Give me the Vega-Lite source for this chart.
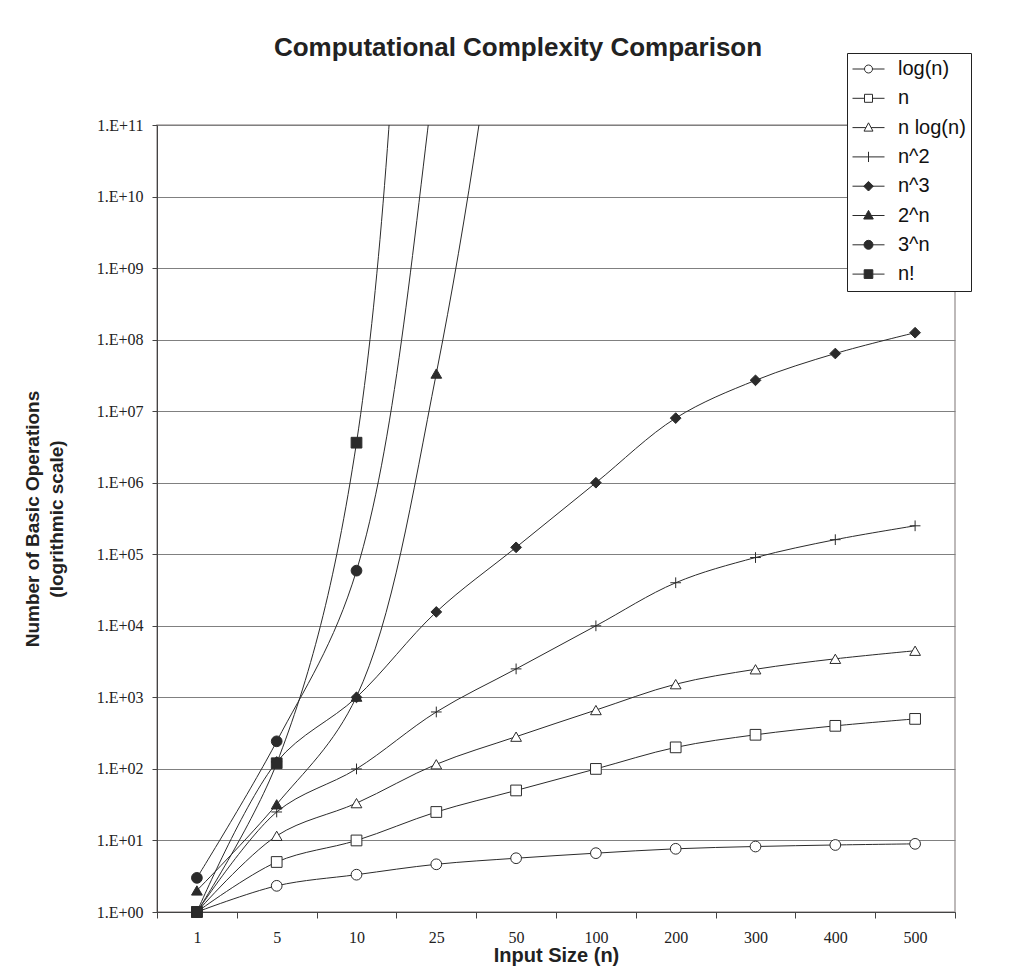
{
  "$schema": "https://vega.github.io/schema/vega-lite/v6.json",
  "autosize": {"type": "none"},
  "width": 798,
  "height": 787,
  "padding": {"left": 157, "top": 125, "right": 62, "bottom": 67},
  "background": "white",
  "config": {
    "view": {"stroke": "#a8a2a2", "strokeWidth": 1.5},
    "font": "Liberation Sans"
  },
  "title": {
    "text": "Computational Complexity Comparison",
    "font": "Liberation Sans",
    "fontSize": 26,
    "fontWeight": "bold",
    "color": "#222222",
    "anchor": "middle",
    "frame": "group",
    "dx": -38,
    "offset": -8
  },
  "data": {
    "values": [
      {"n": 1, "series": "log(n)", "v": 1},
      {"n": 5, "series": "log(n)", "v": 2.3219},
      {"n": 10, "series": "log(n)", "v": 3.3219},
      {"n": 25, "series": "log(n)", "v": 4.6439},
      {"n": 50, "series": "log(n)", "v": 5.6439},
      {"n": 100, "series": "log(n)", "v": 6.6439},
      {"n": 200, "series": "log(n)", "v": 7.6439},
      {"n": 300, "series": "log(n)", "v": 8.2288},
      {"n": 400, "series": "log(n)", "v": 8.6439},
      {"n": 500, "series": "log(n)", "v": 8.9658},
      {"n": 1, "series": "n", "v": 1},
      {"n": 5, "series": "n", "v": 5},
      {"n": 10, "series": "n", "v": 10},
      {"n": 25, "series": "n", "v": 25},
      {"n": 50, "series": "n", "v": 50},
      {"n": 100, "series": "n", "v": 100},
      {"n": 200, "series": "n", "v": 200},
      {"n": 300, "series": "n", "v": 300},
      {"n": 400, "series": "n", "v": 400},
      {"n": 500, "series": "n", "v": 500},
      {"n": 1, "series": "n log(n)", "v": 1},
      {"n": 5, "series": "n log(n)", "v": 11.61},
      {"n": 10, "series": "n log(n)", "v": 33.22},
      {"n": 25, "series": "n log(n)", "v": 116.1},
      {"n": 50, "series": "n log(n)", "v": 282.2},
      {"n": 100, "series": "n log(n)", "v": 664.4},
      {"n": 200, "series": "n log(n)", "v": 1528.8},
      {"n": 300, "series": "n log(n)", "v": 2468.6},
      {"n": 400, "series": "n log(n)", "v": 3457.5},
      {"n": 500, "series": "n log(n)", "v": 4482.9},
      {"n": 1, "series": "n^2", "v": 1},
      {"n": 5, "series": "n^2", "v": 25},
      {"n": 10, "series": "n^2", "v": 100},
      {"n": 25, "series": "n^2", "v": 625},
      {"n": 50, "series": "n^2", "v": 2500},
      {"n": 100, "series": "n^2", "v": 10000},
      {"n": 200, "series": "n^2", "v": 40000},
      {"n": 300, "series": "n^2", "v": 90000},
      {"n": 400, "series": "n^2", "v": 160000},
      {"n": 500, "series": "n^2", "v": 250000},
      {"n": 1, "series": "n^3", "v": 1},
      {"n": 5, "series": "n^3", "v": 125},
      {"n": 10, "series": "n^3", "v": 1000},
      {"n": 25, "series": "n^3", "v": 15625},
      {"n": 50, "series": "n^3", "v": 125000},
      {"n": 100, "series": "n^3", "v": 1000000},
      {"n": 200, "series": "n^3", "v": 8000000},
      {"n": 300, "series": "n^3", "v": 27000000},
      {"n": 400, "series": "n^3", "v": 64000000},
      {"n": 500, "series": "n^3", "v": 125000000},
      {"n": 1, "series": "2^n", "v": 2},
      {"n": 5, "series": "2^n", "v": 32},
      {"n": 10, "series": "2^n", "v": 1024},
      {"n": 25, "series": "2^n", "v": 33554432},
      {"n": 50, "series": "2^n", "v": 1.1259e15},
      {"n": 100, "series": "2^n", "v": 1.2677e30},
      {"n": 200, "series": "2^n", "v": 1.6069e60},
      {"n": 300, "series": "2^n", "v": 2.037e90},
      {"n": 400, "series": "2^n", "v": 2.5822e120},
      {"n": 500, "series": "2^n", "v": 3.2734e150},
      {"n": 1, "series": "3^n", "v": 3},
      {"n": 5, "series": "3^n", "v": 243},
      {"n": 10, "series": "3^n", "v": 59049},
      {"n": 25, "series": "3^n", "v": 8.4729e11},
      {"n": 50, "series": "3^n", "v": 7.179e23},
      {"n": 100, "series": "3^n", "v": 5.1538e47},
      {"n": 200, "series": "3^n", "v": 2.6561e95},
      {"n": 300, "series": "3^n", "v": 1.3689e143},
      {"n": 400, "series": "3^n", "v": 7.055e190},
      {"n": 500, "series": "3^n", "v": 3.636e238},
      {"n": 1, "series": "n!", "v": 1},
      {"n": 5, "series": "n!", "v": 120},
      {"n": 10, "series": "n!", "v": 3628800},
      {"n": 25, "series": "n!", "v": 1.5511e25},
      {"n": 50, "series": "n!", "v": 3.0414e64},
      {"n": 100, "series": "n!", "v": 9.3326e157}
    ]
  },
  "encoding": {
    "x": {
      "field": "n",
      "type": "ordinal",
      "bandPosition": 0.5,
      "scale": {"type": "band", "paddingInner": 0, "paddingOuter": 0},
      "axis": {
        "title": "Input Size (n)",
        "titleFont": "Liberation Sans",
        "titleFontSize": 20,
        "titleFontWeight": "bold",
        "titleColor": "#222222",
        "titlePadding": 0,
        "labelAngle": 0,
        "labelFont": "Liberation Serif",
        "labelFontSize": 16,
        "labelColor": "#222222",
        "labelPadding": 11,
        "tickBand": "extent",
        "tickSize": 6,
        "tickColor": "#444444",
        "domainColor": "#444444",
        "grid": false
      }
    },
    "y": {
      "field": "v",
      "type": "quantitative",
      "scale": {"type": "log", "domain": [1, 100000000000], "nice": false},
      "axis": {
        "title": ["Number of Basic Operations", "(logrithmic scale)"],
        "titleFont": "Liberation Sans",
        "titleFontSize": 19,
        "titleFontWeight": "bold",
        "titleColor": "#222222",
        "titleLineHeight": 24,
        "titlePadding": 30,
        "values": [1, 10, 100, 1000, 10000, 100000, 1000000, 10000000, 100000000, 1000000000, 10000000000, 100000000000],
        "labelExpr": "'1.E+' + (datum.value < 1e10 ? '0' : '') + format(log(datum.value) / LN10, '.0f')",
        "labelFont": "Liberation Serif",
        "labelFontSize": 16,
        "labelColor": "#222222",
        "labelPadding": 9,
        "tickSize": 5,
        "tickColor": "#444444",
        "domainColor": "#444444",
        "grid": true,
        "gridColor": "#808080",
        "gridWidth": 1
      }
    }
  },
  "layer": [
    {
      "mark": {"type": "line", "interpolate": "catmull-rom", "clip": true, "stroke": "#2b2b2b", "strokeWidth": 1},
      "encoding": {"detail": {"field": "series"}}
    },
    {
      "transform": [{"filter": "datum.v <= 100000000000"}],
      "mark": {"type": "point", "filled": true, "opacity": 1, "stroke": "#2b2b2b", "strokeWidth": 1, "size": 115},
      "encoding": {
        "shape": {
          "field": "series",
          "type": "nominal",
          "scale": {
            "range": ["triangle-up", "circle", "circle", "square", "triangle-up", "square", "M-1,0H1M0,-1V1", "diamond"]
          },
          "legend": null
        },
        "fill": {
          "field": "series",
          "type": "nominal",
          "scale": {
            "range": ["#2b2b2b", "#2b2b2b", "white", "white", "white", "#2b2b2b", "transparent", "#2b2b2b"]
          },
          "legend": null
        }
      }
    },
    {
      "transform": [{"filter": "datum.v < 0"}],
      "mark": {"type": "point", "filled": true, "opacity": 1, "stroke": "#2b2b2b", "strokeWidth": 1},
      "encoding": {
        "shape": {
          "field": "series",
          "type": "nominal",
          "scale": {
            "domain": ["log(n)", "n", "n log(n)", "n^2", "n^3", "2^n", "3^n", "n!"],
            "range": [
              "M-1,0H-0.25M0.25,0H1M0.25,0A0.25,0.25,0,1,1,-0.25,0A0.25,0.25,0,1,1,0.25,0Z",
              "M-1,0H-0.25M0.25,0H1M-0.25,-0.25H0.25V0.25H-0.25Z",
              "M-1,0H-0.16M0.16,0H1M0,-0.3L0.28,0.22H-0.28Z",
              "M-1,0H1M0,-0.32V0.32",
              "M-1,0H1M0,-0.3L0.3,0L0,0.3L-0.3,0Z",
              "M-1,0H1M0,-0.32L0.3,0.22H-0.3Z",
              "M-1,0H1M0.28,0A0.28,0.28,0,1,1,-0.28,0A0.28,0.28,0,1,1,0.28,0Z",
              "M-1,0H1M-0.27,-0.27H0.27V0.27H-0.27Z"
            ]
          },
          "legend": {
            "type": "symbol",
            "orient": "none",
            "legendX": 690,
            "legendY": -72,
            "title": null,
            "padding": 5,
            "strokeColor": "#222222",
            "fillColor": "white",
            "symbolSize": 1024,
            "symbolStrokeWidth": 1,
            "clipHeight": 22,
            "rowPadding": 7.3,
            "labelOffset": 13,
            "labelFont": "Liberation Sans",
            "labelFontSize": 20,
            "labelColor": "#111111",
            "symbolOpacity": 1
          }
        },
        "fill": {
          "field": "series",
          "type": "nominal",
          "scale": {
            "domain": ["log(n)", "n", "n log(n)", "n^2", "n^3", "2^n", "3^n", "n!"],
            "range": ["white", "white", "white", "white", "#2b2b2b", "#2b2b2b", "#2b2b2b", "#2b2b2b"]
          },
          "legend": {
            "type": "symbol",
            "orient": "none",
            "legendX": 690,
            "legendY": -72,
            "title": null,
            "padding": 5,
            "strokeColor": "#222222",
            "fillColor": "white",
            "symbolSize": 1024,
            "symbolStrokeWidth": 1,
            "clipHeight": 22,
            "rowPadding": 7.3,
            "labelOffset": 13,
            "labelFont": "Liberation Sans",
            "labelFontSize": 20,
            "labelColor": "#111111",
            "symbolOpacity": 1
          }
        }
      }
    }
  ],
  "resolve": {
    "scale": {"shape": "independent", "fill": "independent"},
    "legend": {"shape": "independent", "fill": "independent"}
  }
}
